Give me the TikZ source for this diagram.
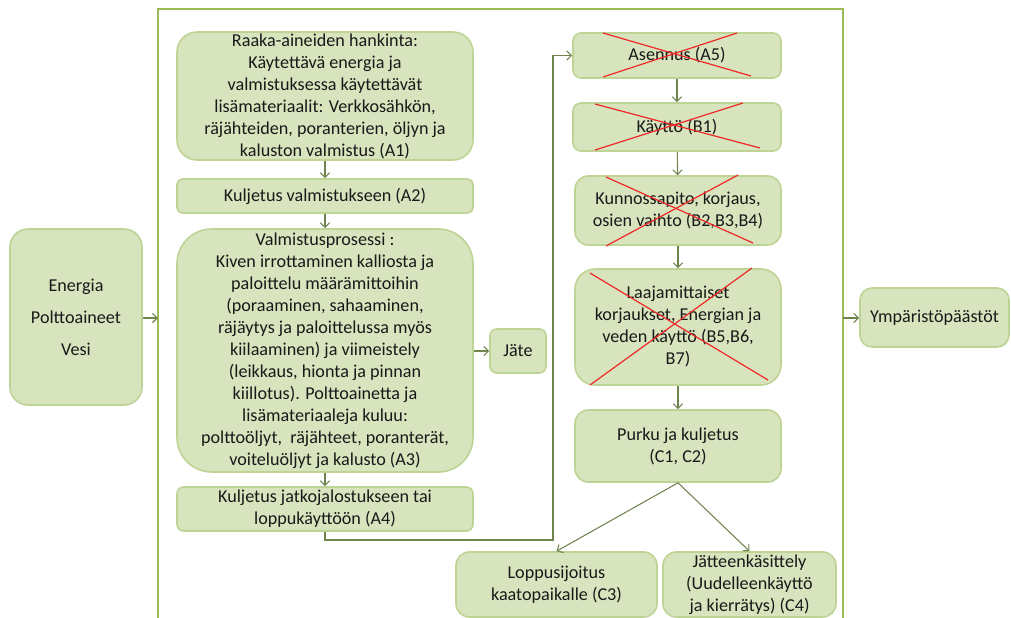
\documentclass[tikz,border=0pt]{standalone}
\usepackage{fontspec}
\setmainfont{Carlito}
\usetikzlibrary{arrows.meta}
\definecolor{boxfill}{RGB}{215,228,189}
\definecolor{boxline}{RGB}{190,212,148}
\definecolor{framec}{RGB}{155,187,89}
\definecolor{arrc}{RGB}{112,132,78}
\definecolor{txt}{RGB}{25,25,25}
\definecolor{crossc}{RGB}{240,40,40}
\tikzset{
  box/.style={draw=boxline, fill=boxfill, line width=1.2pt, inner sep=0pt, text=txt, align=center,
    font=\fontsize{13.6pt}{16.5pt}\selectfont},
  arr/.style={draw=arrc, line width=0.8pt, -{Straight Barb[length=3.5pt,width=7pt]}},
  frameline/.style={draw=framec, line width=2.1pt},
  cross/.style={draw=crossc, line width=0.9pt},
}
\begin{document}
\begin{tikzpicture}[x=0.75pt,y=-0.75pt]
\useasboundingbox (0,0) rectangle (1011,618);
% frame
\draw[frameline] (158,630) -- (158,9) -- (843,9) -- (843,630);
\coordinate (fl) at (158,318);
\coordinate (fr) at (843,318);

% left input box
\node[box, rounded corners=13.5pt, minimum width=99pt, minimum height=132pt,
  font=\fontsize{13.6pt}{24pt}\selectfont] (E) at (76,317)
  {Energia\\Polttoaineet\\Vesi};

% left column
\node[box, rounded corners=15pt, minimum width=222pt, minimum height=96pt] (A1) at (325,96)
  {Raaka-aineiden hankinta:\\Käytettävä energia ja\\valmistuksessa käytettävät\\lisämateriaalit: Verkkosähkön,\\räjähteiden, poranterien, öljyn ja\\kaluston valmistus (A1)};
\node[box, rounded corners=4pt, minimum width=222pt, minimum height=25.5pt] (A2) at (325,196)
  {Kuljetus valmistukseen (A2)};
\node[box, rounded corners=26pt, minimum width=222pt, minimum height=182.25pt] (A3) at (325,350.5)
  {Valmistusprosessi :\\Kiven irrottaminen kalliosta ja\\paloittelu määrämittoihin\\(poraaminen, sahaaminen,\\räjäytys ja paloittelussa myös\\kiilaaminen) ja viimeistely\\(leikkaus, hionta ja pinnan\\kiillotus). Polttoainetta ja\\lisämateriaaleja kuluu:\\polttoöljyt,\ \ räjähteet, poranterät,\\voiteluöljyt ja kalusto (A3)};
\node[box, rounded corners=5pt, minimum width=42pt, minimum height=33pt] (J) at (518,351) {Jäte};
\node[box, rounded corners=5pt, minimum width=222pt, minimum height=33pt] (A4) at (325,509)
  {Kuljetus jatkojalostukseen tai\\loppukäyttöön (A4)};

% right column
\node[box, rounded corners=6pt, minimum width=156pt, minimum height=33.75pt] (A5) at (677,55.5) {Asennus (A5)};
\node[box, rounded corners=6pt, minimum width=156pt, minimum height=36pt] (B1) at (677,127) {Käyttö (B1)};
\node[box, rounded corners=10pt, minimum width=154.5pt, minimum height=51.75pt] (B2) at (678,210.5)
  {Kunnossapito, korjaus,\\osien vaihto (B2,B3,B4)};
\node[box, rounded corners=15pt, minimum width=154.5pt, minimum height=87pt] (B3) at (678,327)
  {Laajamittaiset\\korjaukset, Energian ja\\veden käyttö (B5,B6,\\B7)};
\node[box, rounded corners=10pt, minimum width=154.5pt, minimum height=54pt] (C12) at (678,446)
  {Purku ja kuljetus\\(C1, C2)};
\node[box, rounded corners=10pt, minimum width=150.75pt, minimum height=48.75pt] (C3) at (556.5,584.5)
  {Loppusijoitus\\kaatopaikalle (C3)};
\node[box, rounded corners=10pt, minimum width=129.75pt, minimum height=48.75pt] (C4) at (749.5,584.5)
  {Jätteenkäsittely\\(Uudelleenkäyttö\\ja kierrätys) (C4)};

% output
\node[box, rounded corners=9pt, minimum width=111.75pt, minimum height=44.25pt] (Y) at (934.5,317.5) {Ympäristöpäästöt};

% crosses
\draw[cross] (603,33) -- (751,76);
\draw[cross] (603,77) -- (737,33);
\draw[cross] (595,104) -- (760,148);
\draw[cross] (595,150) -- (743,103);
\draw[cross] (606,177) -- (753,243);
\draw[cross] (606,246) -- (738,175);
\draw[cross] (590,273) -- (768,380);
\draw[cross] (590,385) -- (752,268);

% connectors
\draw[arr] (E.east |- fl) -- (fl);
\draw[arr] (A1) -- (A2);
\draw[arr] (A2) -- (A3);
\draw[arr] (A3) -- (A4);
\draw[arr] (A3.east |- J.west) -- (J.west);
\coordinate (k1) at (553,540);
\draw[arr] (A4.south) |- (k1) |- (A5.west);
\draw[arr] (A5) -- (B1);
\draw[arr] (B1) -- (B2);
\draw[arr] (B2) -- (B3);
\draw[arr] (B3) -- (C12);
\draw[arr] (C12.south) -- (C3.north);
\draw[arr] (C12.south) -- (C4.north);
\draw[arr] (fr) -- (fr -| Y.west);
\end{tikzpicture}
\end{document}
